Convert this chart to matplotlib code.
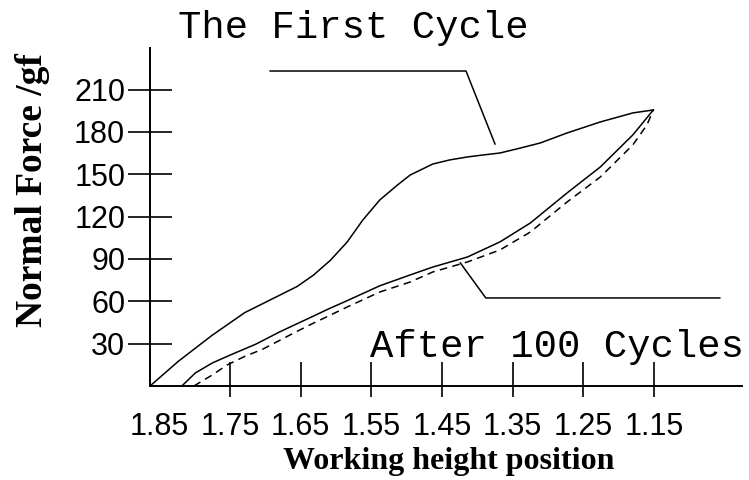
import numpy as np
import matplotlib
matplotlib.use('Agg')
from matplotlib import pyplot as plt

# working height (mm) and normal force (gf)
# first cycle
x_first = [1.863, 1.823, 1.775, 1.729, 1.679, 1.655, 1.632, 1.608, 1.584, 1.562,
           1.538, 1.513, 1.495, 1.463, 1.439, 1.414, 1.392, 1.368, 1.344, 1.311,
           1.273, 1.226, 1.180, 1.151]
f_first = [0, 17.5, 36.0, 52.0, 64.5, 70.5, 78.5, 89.0, 102.1, 117.6,
           131.8, 142.4, 149.5, 157.3, 160.2, 162.3, 163.7, 165.1, 168.0, 172.2,
           179.3, 187.1, 193.5, 195.6]

# after 100 cycles (solid)
x_after = [1.818, 1.799, 1.775, 1.747, 1.714, 1.679, 1.632, 1.611, 1.584, 1.538,
           1.495, 1.463, 1.414, 1.368, 1.325, 1.273, 1.226, 1.180, 1.151]
f_after = [0, 9.2, 16.3, 22.5, 29.5, 38.5, 49.5, 54.5, 60.5, 71.0,
           78.7, 84.3, 91.4, 102.1, 115.5, 136.8, 155.2, 177.9, 195.6]

# after 100 cycles (dashed)
x_after2 = [1.801, 1.775, 1.754, 1.729, 1.704, 1.679, 1.658, 1.632, 1.611, 1.584,
            1.538, 1.495, 1.463, 1.414, 1.368, 1.325, 1.273, 1.226, 1.180, 1.160, 1.151]
f_after2 = [0, 7.8, 14.9, 21.0, 26.0, 32.5, 38.0, 44.5, 49.5, 56.0,
            66.6, 73.7, 80.8, 87.9, 96.4, 109.1, 130.4, 148.1, 170.8, 185.0, 195.6]

xticks = [1.85, 1.75, 1.65, 1.55, 1.45, 1.35, 1.25, 1.15]
xtick_labels = ['1.85', '1.75', '1.65', '1.55', '1.45', '1.35', '1.25', '1.15']
yticks = [30, 60, 90, 120, 150, 180, 210]

# leader lines of the two labels
lead_first_x = [1.693, 1.416, 1.375]
lead_first_y = [223.2, 223.2, 171.5]
lead_after_x = [1.424, 1.388, 1.057]
lead_after_y = [87.2, 62.4, 62.4]

fig = plt.figure(figsize=(7.49, 4.80), dpi=100)
ax = fig.add_axes([0.2003, 0.1958, 0.7904, 0.7042])

ax.plot(x_first, f_first, color='black', lw=1.1)
ax.plot(x_after, f_after, color='black', lw=1.1)
ax.plot(x_after2, f_after2, color='black', lw=1.1, linestyle=(0, (5, 3.5)))
ax.plot(lead_first_x, lead_first_y, color='black', lw=1.1)
ax.plot(lead_after_x, lead_after_y, color='black', lw=1.1)

ax.set_xlim(1.863, 1.0255)
ax.set_ylim(0, 239.5)

for s in ['top', 'right']:
    ax.spines[s].set_visible(False)
for s in ['left', 'bottom']:
    ax.spines[s].set_linewidth(1.4)

tick_font = {'family': 'Liberation Sans', 'size': 22}
ax.set_xticks(xticks)
ax.set_xticklabels(xtick_labels, fontdict=tick_font)
ax.set_yticks(yticks)
ax.set_yticklabels([str(v) for v in yticks], fontdict=tick_font)

# x ticks: long part inside, short part below the axis
ax.tick_params(axis='x', which='major', direction='in', length=17.3, width=1.2, pad=19)
ax.set_xticks(xticks[1:], minor=True)
ax.xaxis.remove_overlapping_locs = False
ax.tick_params(axis='x', which='minor', direction='out', length=8, width=1.2)
ax.xaxis.get_major_ticks()[0].tick1line.set_visible(False)
ax.tick_params(axis='y', direction='inout', length=31.7, width=1.2, pad=2)

ax.set_xlabel('Working height position', fontsize=23, fontweight='bold',
              family='Liberation Serif', va='center')
ax.xaxis.set_label_coords(0.504, -0.222)
ax.set_ylabel('Normal Force /gf', fontsize=27, fontweight='bold',
              family='Liberation Serif', va='center')
ax.yaxis.set_label_coords(-0.199, 0.581)

fig.text(178 / 749, 1 - 38 / 480, 'The First Cycle', family='Liberation Mono',
         fontsize=28, va='baseline', ha='left')
ax.text(1.552, 20.5, 'After 100 Cycles', family='Liberation Mono',
        fontsize=28, va='baseline', ha='left')

fig.savefig('out.png', dpi=100)
